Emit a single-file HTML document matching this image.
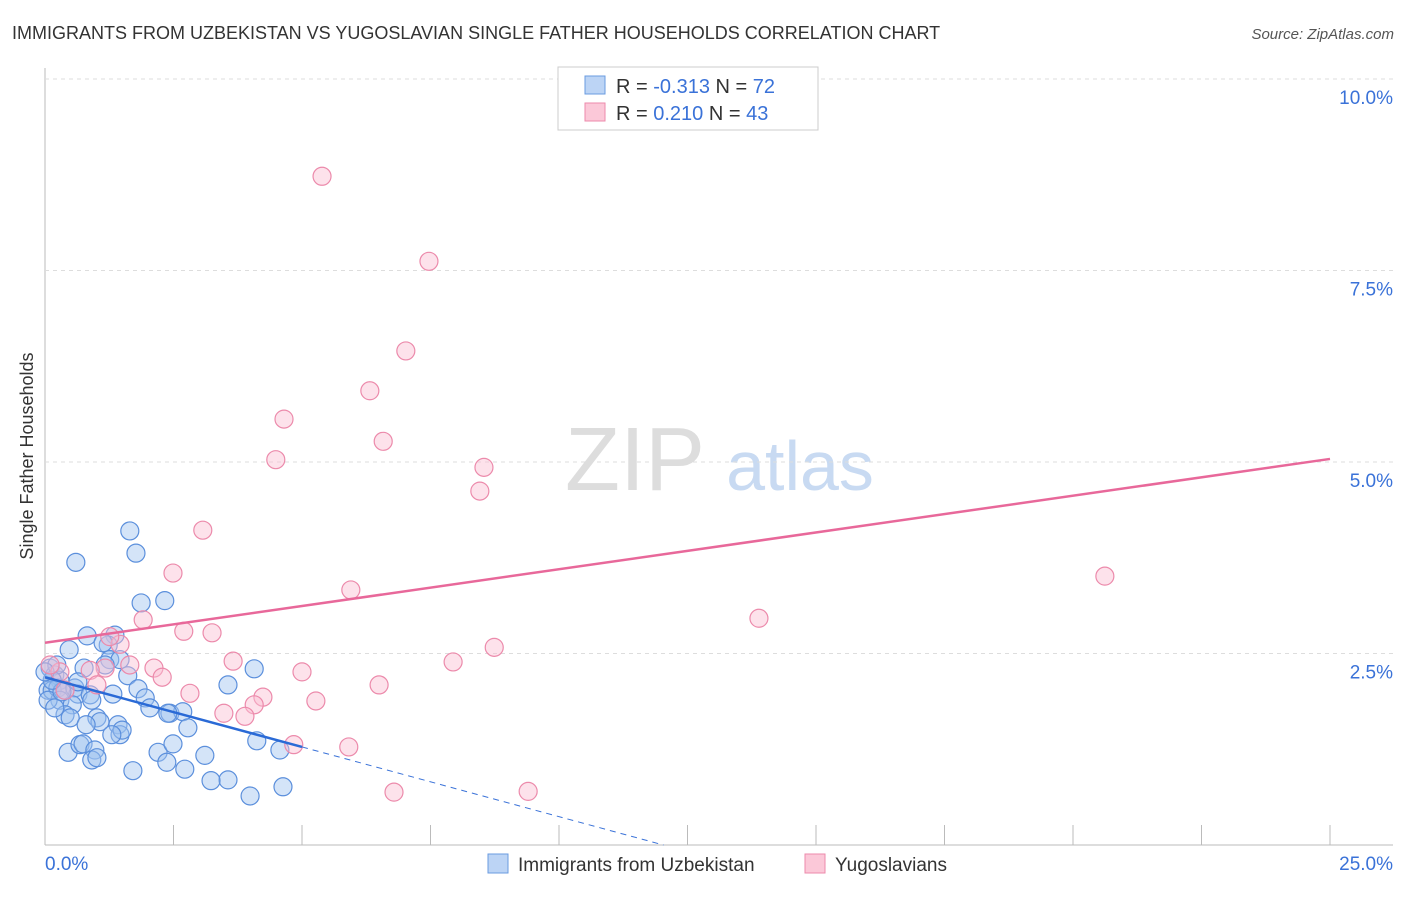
<!DOCTYPE html>
<html><head><meta charset="utf-8"><style>
body{margin:0;background:#fff;font-family:"Liberation Sans",sans-serif}
svg text{font-family:"Liberation Sans",sans-serif}
</style></head><body>
<svg id="c" width="1406" height="892" xmlns="http://www.w3.org/2000/svg">
<text x="12" y="39" font-size="18" fill="#333">IMMIGRANTS FROM UZBEKISTAN VS YUGOSLAVIAN SINGLE FATHER HOUSEHOLDS CORRELATION CHART</text>
<text x="1394" y="39" font-size="15" fill="#555" text-anchor="end" font-style="italic">Source: ZipAtlas.com</text>
<text x="33" y="456" font-size="18" fill="#333" text-anchor="middle" transform="rotate(-90 33 456)">Single Father Households</text>
<text x="635" y="490" font-size="90" fill="#ddd" text-anchor="middle" font-family="Liberation Serif">ZIP</text>
<text x="800" y="490" font-size="70" fill="#c8daf2" text-anchor="middle">atlas</text>
<g id="grid"></g><g id="marks"></g>
<g>
<rect x="558" y="67" width="260" height="63" fill="#fff" stroke="#ccc"/>
<rect x="585" y="76" width="20" height="18" fill="#bcd4f5" stroke="#6a9be0"/>
<rect x="585" y="103" width="20" height="18" fill="#fbc8d8" stroke="#ec8aab"/>
<text x="616" y="93" font-size="20" fill="#333">R = <tspan fill="#3a72d8">-0.313</tspan>   N = <tspan fill="#3a72d8">72</tspan></text>
<text x="616" y="120" font-size="20" fill="#333">R = <tspan fill="#3a72d8"> 0.210</tspan>   N = <tspan fill="#3a72d8">43</tspan></text>
</g>
<g>
<rect x="488" y="854" width="20" height="19" fill="#bcd4f5" stroke="#6a9be0"/>
<text x="518" y="871" font-size="19" fill="#333">Immigrants from Uzbekistan</text>
<rect x="805" y="854" width="20" height="19" fill="#fbc8d8" stroke="#ec8aab"/>
<text x="835" y="871" font-size="19" fill="#333">Yugoslavians</text>
</g>
</svg>
<script>
const xTicks=[0,2.5,5,7.5,10,12.5,15,17.5,20,22.5,25];
const yTicks=[2.5,5,7.5,10];
const yTickLabels=["2.5%","5.0%","7.5%","10.0%"];
const blueX=[1.65,1.77,0.60,1.87,2.33,0.47,0.82,1.36,1.23,1.13,1.26,1.46,0.76,1.61,4.07,3.56,0.10,0.19,0.29,0.06,0.14,0.25,0.39,0.58,0.64,0.88,0.29,0.53,0.91,1.32,1.81,1.95,2.04,2.43,2.68,2.78,0.39,0.49,1.01,1.07,1.42,1.46,1.50,1.30,0.80,0.45,0.68,0.74,0.97,0.91,1.01,2.20,2.49,3.11,2.37,2.72,1.71,4.12,4.57,3.56,3.23,3.99,4.63,2.39,0.23,0.06,0.19,0.64,1.17,0.33,0.14,0.00];
const blueY=[4.10,3.81,3.69,3.16,3.19,2.55,2.73,2.74,2.61,2.64,2.42,2.42,2.31,2.21,2.30,2.09,2.31,2.22,2.15,2.02,2.02,2.05,2.02,2.05,1.97,1.96,1.89,1.83,1.89,1.97,2.04,1.92,1.79,1.72,1.74,1.53,1.70,1.66,1.66,1.61,1.57,1.44,1.50,1.44,1.57,1.21,1.31,1.32,1.24,1.11,1.14,1.21,1.32,1.17,1.08,0.99,0.97,1.36,1.24,0.85,0.84,0.64,0.76,1.72,2.35,1.89,1.79,2.13,2.35,2.00,2.15,2.26];
const pinkX=[5.39,7.47,7.02,6.32,4.65,6.58,4.49,8.54,8.46,3.07,2.49,5.95,1.91,2.70,3.25,20.62,13.89,8.74,7.94,3.66,2.12,5.00,2.28,4.24,6.50,2.82,5.27,3.48,4.07,3.89,4.84,5.91,6.79,9.40,1.46,1.26,1.17,0.88,0.29,0.10,0.39,1.01,1.65];
const pinkY=[8.73,7.62,6.45,5.93,5.56,5.27,5.03,4.93,4.62,4.11,3.55,3.33,2.94,2.79,2.77,3.51,2.96,2.58,2.39,2.40,2.31,2.26,2.19,1.93,2.09,1.98,1.88,1.72,1.83,1.68,1.31,1.28,0.69,0.70,2.62,2.72,2.31,2.28,2.26,2.35,2.02,2.09,2.35];
const blueLine=[2.19,-0.182];
const pinkLine=[2.64,0.096];
const X=v=>45+v*51.4, Y=v=>845-v*76.6;
const NS="http://www.w3.org/2000/svg";
function mk(t,a,p){const e=document.createElementNS(NS,t);for(const k in a)e.setAttribute(k,a[k]);p.appendChild(e);return e;}
const g=document.getElementById('grid'),m=document.getElementById('marks');
let ax=mk('line',{x1:45,y1:845,x2:1393,y2:845,stroke:'#bbb'},g);


let ay=mk('line',{x1:45,y1:68,x2:45,y2:845,stroke:'#bbb'},g);


mk('line',{x1:45,y1:Y(10),x2:1393,y2:Y(10),stroke:'#ddd','stroke-dasharray':'4,4'},g);
yTicks.forEach((v,i)=>{
 const l=mk('line',{x1:45,y1:Y(v),x2:1393,y2:Y(v),stroke:'#ddd','stroke-dasharray':'4,4'},g);
 
 
 const t=mk('text',{x:1393,y:Y(v)+25,'font-size':19,fill:'#3a72d8','text-anchor':'end'},g);t.textContent=yTickLabels[i];
 
 
});
xTicks.forEach(v=>{
 const l=mk('line',{x1:X(v),y1:825,x2:X(v),y2:845,stroke:'#bbb'},g);
 
 
});
let t0=mk('text',{x:45,y:870,'font-size':19,fill:'#3a72d8'},g);t0.textContent='0.0%';


let t1=mk('text',{x:1393,y:870,'font-size':19,fill:'#3a72d8','text-anchor':'end'},g);t1.textContent='25.0%';


blueX.forEach((x,i)=>{const c=mk('circle',{cx:X(x),cy:Y(blueY[i]),r:9,fill:'rgba(160,195,240,0.45)',stroke:'#5b8fdc','stroke-width':1.2},m);
 
 });
pinkX.forEach((x,i)=>{const c=mk('circle',{cx:X(x),cy:Y(pinkY[i]),r:9,fill:'rgba(250,190,210,0.45)',stroke:'#ec8aab','stroke-width':1.2},m);
 
 });
const bx0=0,bx1=5,bx2=-blueLine[0]/blueLine[1];
let bd=mk('line',{x1:X(bx1),y1:Y(blueLine[0]+blueLine[1]*bx1),x2:X(bx2),y2:Y(0),stroke:'#3a72d8','stroke-width':1,'stroke-dasharray':'6,5'},m);


let bl=mk('line',{x1:X(bx0),y1:Y(blueLine[0]),x2:X(bx1),y2:Y(blueLine[0]+blueLine[1]*bx1),stroke:'#2a6ad6','stroke-width':2.5},m);


let pl=mk('line',{x1:X(0),y1:Y(pinkLine[0]),x2:X(25),y2:Y(pinkLine[0]+pinkLine[1]*25),stroke:'#e8689a','stroke-width':2.5},m);


</script>
</body></html>
